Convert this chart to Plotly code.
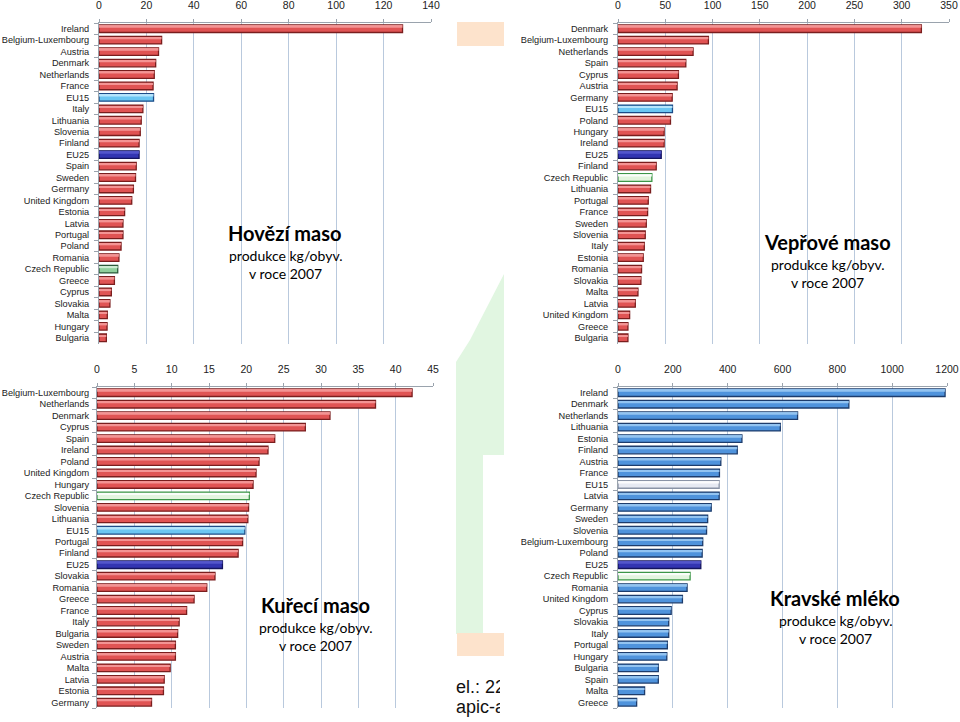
import plotly.graph_objects as go

W, H = 960, 722

# ---------------- data ----------------
beef_cats = ["Ireland", "Belgium-Luxembourg", "Austria", "Denmark", "Netherlands", "France", "EU15",
             "Italy", "Lithuania", "Slovenia", "Finland", "EU25", "Spain", "Sweden", "Germany",
             "United Kingdom", "Estonia", "Latvia", "Portugal", "Poland", "Romania", "Czech Republic",
             "Greece", "Cyprus", "Slovakia", "Malta", "Hungary", "Bulgaria"]
beef_vals = [128, 26.4, 25.1, 23.9, 23.3, 22.8, 23.0, 18.5, 17.8, 17.4, 16.9, 16.9, 15.7, 15.4, 14.5,
             13.8, 10.8, 10.1, 10.1, 9.3, 8.4, 7.9, 6.5, 5.2, 4.6, 3.5, 3.4, 3.1]

pork_cats = ["Denmark", "Belgium-Luxembourg", "Netherlands", "Spain", "Cyprus", "Austria", "Germany",
             "EU15", "Poland", "Hungary", "Ireland", "EU25", "Finland", "Czech Republic", "Lithuania",
             "Portugal", "France", "Sweden", "Slovenia", "Italy", "Estonia", "Romania", "Slovakia",
             "Malta", "Latvia", "United Kingdom", "Greece", "Bulgaria"]
pork_vals = [320.8, 95.6, 79.4, 71.7, 63.9, 62.5, 57.3, 57.6, 55.5, 48.8, 48.8, 45.7, 40.4, 35.8, 34.4,
             32.0, 31.3, 29.9, 28.8, 27.8, 26.7, 24.9, 24.2, 21.1, 18.3, 12.3, 10.5, 10.5]

chicken_cats = ["Belgium-Luxembourg", "Netherlands", "Denmark", "Cyprus", "Spain", "Ireland", "Poland",
                "United Kingdom", "Hungary", "Czech Republic", "Slovenia", "Lithuania", "EU15", "Portugal",
                "Finland", "EU25", "Slovakia", "Romania", "Greece", "France", "Italy", "Bulgaria",
                "Sweden", "Austria", "Malta", "Latvia", "Estonia", "Germany"]
chicken_vals = [42.2, 37.3, 31.2, 27.9, 23.8, 22.9, 21.7, 21.3, 20.9, 20.4, 20.3, 20.2, 19.8, 19.5,
                18.9, 16.8, 15.8, 14.7, 13.0, 12.0, 11.0, 10.8, 10.5, 10.5, 9.8, 9.0, 8.9, 7.3]

milk_cats = ["Ireland", "Denmark", "Netherlands", "Lithuania", "Estonia", "Finland", "Austria", "France",
             "EU15", "Latvia", "Germany", "Sweden", "Slovenia", "Belgium-Luxembourg", "Poland", "EU25",
             "Czech Republic", "Romania", "United Kingdom", "Cyprus", "Slovakia", "Italy", "Portugal",
             "Hungary", "Bulgaria", "Spain", "Malta", "Greece"]
milk_vals = [1193, 842, 655, 592, 452, 435, 375, 370, 369, 369, 340, 327, 323, 309, 307, 302,
             263, 252, 235, 194, 185, 185, 180, 178, 147, 147, 97, 68]

x_ranges = [140, 350, 45, 1200]
x_dticks = [20, 50, 5, 200]

titles = ["Hovězí maso", "Vepřové maso", "Kuřecí maso", "Kravské mléko"]
subtitle1 = "produkce kg/obyv."
subtitle2 = "v roce 2007"

# ---------------- styles ----------------
def bar_style(cat, kind):
    # (fill, outline, highlight)
    if cat == "EU25":
        return "#3335b2", "#14145e", "#5a5cd0"
    if kind == "milk":
        if cat == "EU15":
            return "#e6e9f2", "#8a93a6", "#ffffff"
        if cat == "Czech Republic":
            return "#e3f5df", "#3d9648", "#ffffff"
        return "#4f93dc", "#1d3c6c", "#9fcdf5"
    if cat == "EU15":
        return "#6cc6f2", "#1d4c88", "#c4ecff"
    if cat == "Czech Republic":
        if kind == "beef":
            return "#8fcf9c", "#2c5a3a", "#d8f2dc"
        return "#e3f5df", "#3d9648", "#ffffff"
    return "#e05454", "#7a1e1e", "#f7a0a0"

# panel pixel boxes: (x0, x1, ytop, ybottom)
boxes = [(99, 431, 23, 343.5), (618, 949, 23, 343.5), (97, 433, 387, 708), (618, 947, 387, 708)]
standoffs = [7, 7, 5, 7]
kinds = ["beef", "pork", "chicken", "milk"]
cats_list = [beef_cats, pork_cats, chicken_cats, milk_cats]
vals_list = [beef_vals, pork_vals, chicken_vals, milk_vals]

label_font = dict(family="Liberation Sans, Arial", size=9.2, color="#222")

fig = go.Figure()
layout = {}
for i in range(4):
    ax = "" if i == 0 else str(i + 1)
    cats, vals, kind = cats_list[i], vals_list[i], kinds[i]
    st = [bar_style(c, kind) for c in cats]
    fig.add_trace(go.Bar(
        x=vals, y=cats, orientation="h", xaxis="x" + ax, yaxis="y" + ax,
        marker=dict(color=[s[0] for s in st], line=dict(color=[s[1] for s in st], width=1.3)),
        width=0.66, showlegend=False, hoverinfo="skip"))
    # glossy highlight stripe on the upper half of each bar
    fig.add_trace(go.Bar(
        x=vals, y=cats, orientation="h", xaxis="x" + ax, yaxis="y" + ax,
        marker=dict(color=[s[2] for s in st], line=dict(width=0)),
        width=0.16, offset=-0.24, showlegend=False, hoverinfo="skip", opacity=0.85))
    x0, x1, yt, yb = boxes[i]
    layout["xaxis" + ax] = dict(
        domain=[x0 / W, x1 / W], anchor="y" + ax, side="top", automargin=False,
        range=[0, x_ranges[i]], dtick=x_dticks[i], tick0=0,
        showgrid=True, gridcolor="#b9c9dd", gridwidth=1,
        showline=True, linecolor="#9aa3ad", linewidth=1,
        ticks="outside", ticklen=3, tickcolor="#9aa3ad",
        tickfont=dict(family="Liberation Sans", size=10.5, color="#222"),
        ticklabelstandoff=6, zeroline=False, fixedrange=True)
    layout["yaxis" + ax] = dict(
        domain=[1 - yb / H, 1 - yt / H], anchor="x" + ax, type="category", automargin=False,
        autorange="reversed", showline=True, linecolor="#9aa3ad", linewidth=1,
        tickmode="array", tickvals=cats, ticktext=cats,
        ticks="outside", ticklen=4, tickcolor="#9aa3ad", tickson="boundaries",
        tickfont=label_font, ticklabelstandoff=standoffs[i], showgrid=False, fixedrange=True)

# clipped fragment of background text between panels
fig.add_trace(go.Scatter(
    x=[0.0, 0.0], y=[0.72, 0.30], mode="text", text=["el.: 224", "apic-ak"],
    textposition="middle right", textfont=dict(family="Liberation Sans", size=18, color="#111"),
    xaxis="x5", yaxis="y5", showlegend=False, hoverinfo="skip", cliponaxis=True))
layout["xaxis5"] = dict(domain=[456 / W, 500 / W], range=[0, 1], visible=False, anchor="y5",
                        fixedrange=True, automargin=False)
layout["yaxis5"] = dict(domain=[0, 1 - 676 / H], range=[0, 1], visible=False, anchor="x5",
                        fixedrange=True, automargin=False)

# ---------------- background decoration ----------------
def px(x):
    return x / W

def py(y):
    return 1 - y / H

green = "#e1f6e1"
orange = "#fde3cc"
shapes = [
    dict(type="rect", xref="paper", yref="paper", x0=px(457), x1=px(504), y0=py(22), y1=py(46),
         fillcolor=orange, line=dict(width=0), layer="below"),
    dict(type="path", xref="paper", yref="paper",
         path="M %f,%f L %f,%f L %f,%f L %f,%f L %f,%f L %f,%f L %f,%f Z" % (
             px(504), py(274), px(504), py(455), px(483), py(455), px(483), py(634),
             px(456), py(634), px(456), py(362), px(470), py(340)),
         fillcolor=green, line=dict(width=0), layer="below"),
    dict(type="rect", xref="paper", yref="paper", x0=px(457), x1=px(504), y0=py(633), y1=py(656),
         fillcolor=orange, line=dict(width=0), layer="below"),
]

annotations = []
centers = [(285, 233), (827, 242), (315, 605), (835, 598)]
for i in range(4):
    cx, cy = centers[i]
    annotations.append(dict(x=px(cx), y=py(cy), xref="paper", yref="paper", text="<b>%s</b>" % titles[i],
                            showarrow=False, font=dict(family="Lato", size=20, color="#000"),
                            xanchor="center", yanchor="middle"))
    annotations.append(dict(x=px(cx), y=py(cy + 22), xref="paper", yref="paper", text=subtitle1,
                            showarrow=False, font=dict(family="Lato", size=14, color="#000"),
                            xanchor="center", yanchor="middle"))
    annotations.append(dict(x=px(cx), y=py(cy + 40), xref="paper", yref="paper", text=subtitle2,
                            showarrow=False, font=dict(family="Lato", size=14, color="#000"),
                            xanchor="center", yanchor="middle"))

fig.update_layout(
    width=W, height=H, margin=dict(l=0, r=0, t=0, b=0),
    paper_bgcolor="white", plot_bgcolor="white", barmode="overlay",
    shapes=shapes, annotations=annotations, bargap=0.3,
    **layout)

fig.write_html("out.html", config={"displayModeBar": False},
               post_script="document.body.style.margin='0';document.body.style.padding='0';"
                           "document.body.style.overflow='hidden';")
